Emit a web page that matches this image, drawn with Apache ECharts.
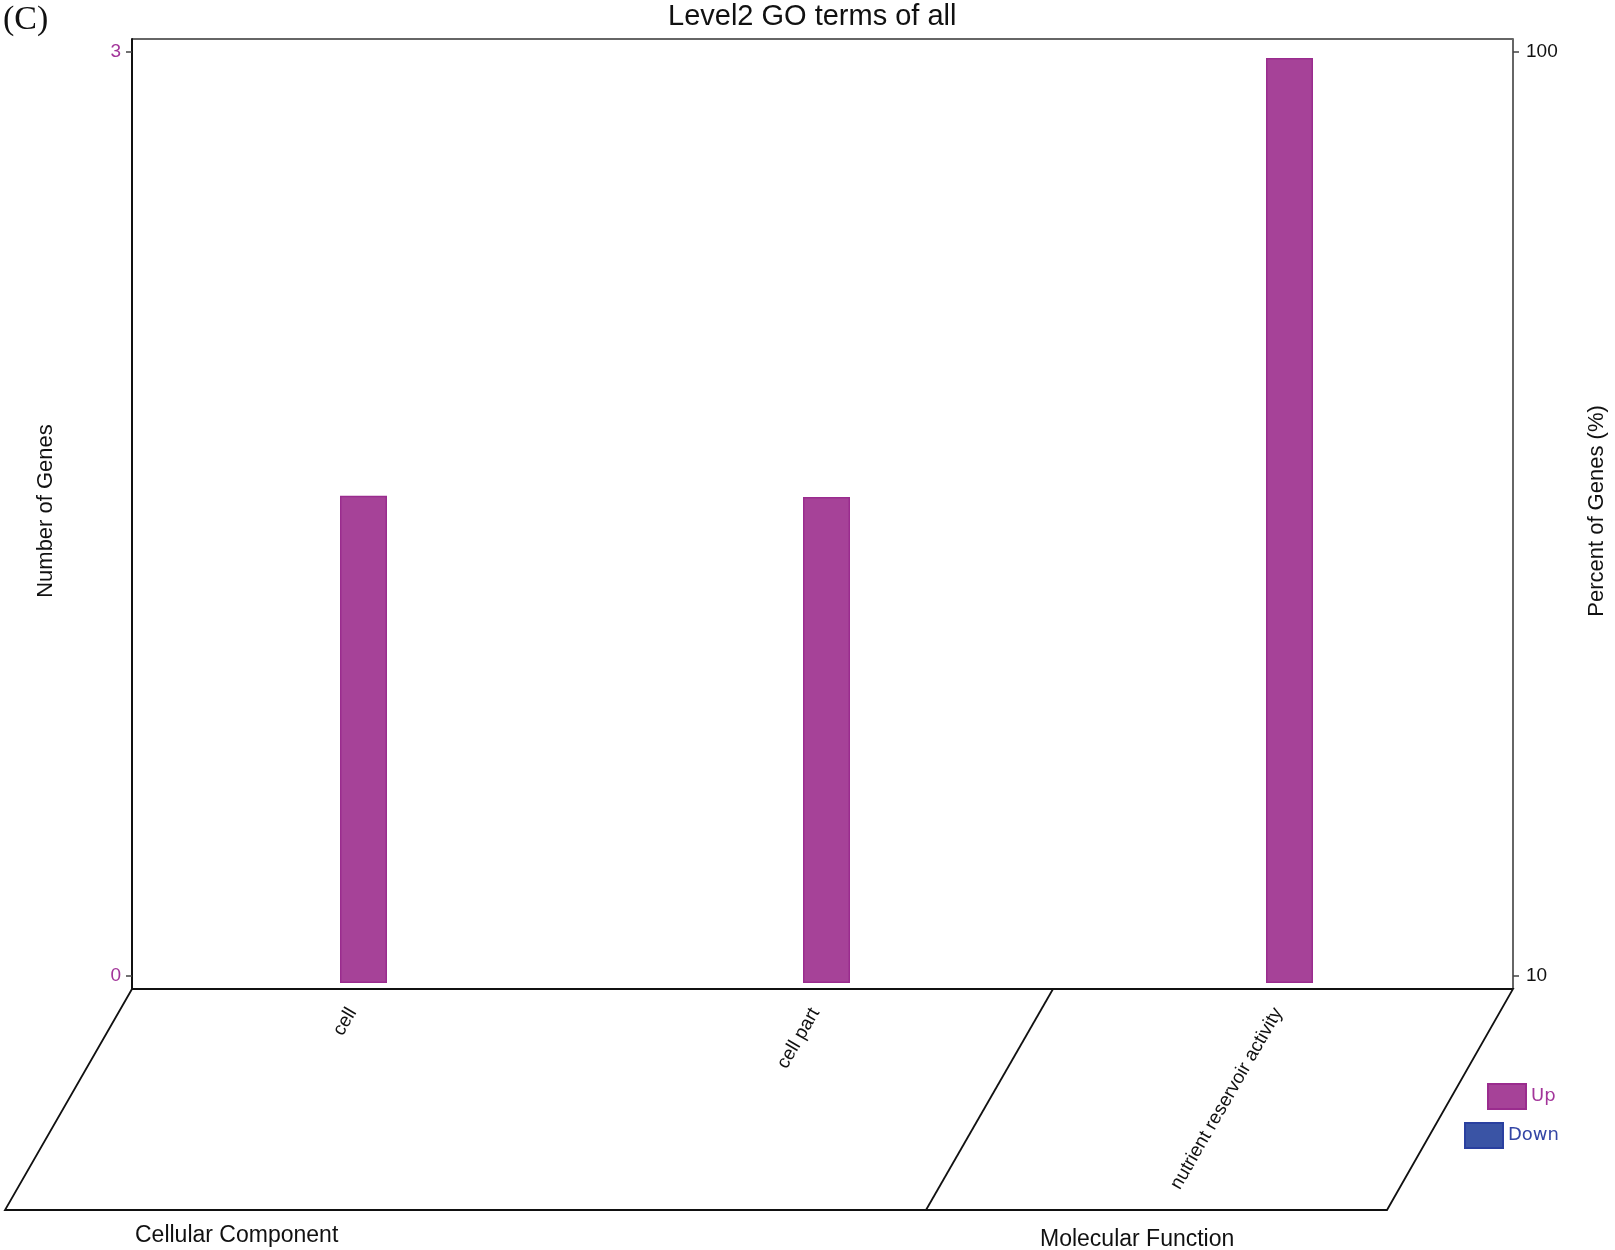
<!DOCTYPE html>
<html>
<head>
<meta charset="utf-8">
<title>Level2 GO terms of all</title>
<script src="https://cdn.jsdelivr.net/npm/echarts@6/dist/echarts.min.js"></script>
<style>
  html, body { margin: 0; padding: 0; background: #fff; }
  #main { width: 1615px; height: 1250px; }
</style>
</head>
<body>
<div id="main"></div>
<script>
// level 2 GO terms
var categories = ['cell', 'cell part', 'nutrient reservoir activity'];
// percent of genes (read against the log axis on the right)
var upPercent = [33.1, 33.0, 98.5];
var downPercent = [null, null, null];
// tick labels
var geneTicks = [0, 3];
var percentTicks = [10, 100];
var groupNames = ['Cellular Component', 'Molecular Function'];

var myChart = echarts.init(document.getElementById('main'));

var font = '"Liberation Sans", Arial, sans-serif';
var upColor = '#A64298';
var downColor = '#3A54A5';

myChart.setOption({
  animation: false,
  backgroundColor: '#fff',
  title: {
    text: 'Level2 GO terms of all',
    left: 668,
    top: 2,
    padding: 0,
    textStyle: { fontSize: 29, fontWeight: 'normal', color: '#111', fontFamily: font }
  },
  legend: [
    {
      data: [{ name: 'Up', textStyle: { color: '#A3359A' } }],
      left: 1487, top: 1083, padding: 0,
      icon: 'rect', itemWidth: 38, itemHeight: 25,
      textStyle: { fontSize: 18, fontFamily: '"DejaVu Sans", sans-serif' }
    },
    {
      data: [{ name: 'Down', textStyle: { color: '#3345A5' } }],
      left: 1464, top: 1122, padding: 0,
      icon: 'rect', itemWidth: 38, itemHeight: 25,
      textStyle: { fontSize: 18, fontFamily: '"DejaVu Sans", sans-serif' }
    }
  ],
  // the category bands run a little past the right frame, as in the original plot
  grid: {
    left: 132,
    right: 94,
    top: 39,
    bottom: 267,
    outerBoundsMode: 'none',
    containLabel: false
  },
  xAxis: {
    type: 'category',
    data: categories,
    position: 'bottom',
    offset: 6,
    boundaryGap: true,
    axisLine: { show: false, onZero: false },
    axisTick: { alignWithLabel: true, length: 6, lineStyle: { color: '#111', width: 1.5 } },
    axisLabel: {
      rotate: 60,
      margin: 20,
      padding: [0, 6, 0, 0],
      verticalAlign: 'bottom',
      fontSize: 19,
      color: '#111',
      fontFamily: font
    }
  },
  yAxis: [
    {
      type: 'value',
      name: 'Number of Genes',
      nameLocation: 'middle',
      nameGap: 75,
      nameTextStyle: { fontSize: 22, color: '#111', fontFamily: font },
      position: 'left',
      min: -0.0227,
      max: 3.0422,
      axisLine: { show: true, onZero: false, lineStyle: { color: '#111', width: 2 } },
      axisTick: { show: true, customValues: geneTicks, length: 6, lineStyle: { color: '#444', width: 1.5 } },
      axisLabel: { customValues: geneTicks, margin: 11, fontSize: 19, color: '#A3359A', fontFamily: font },
      splitLine: { show: false }
    },
    {
      type: 'log',
      logBase: 10,
      name: 'Percent of Genes (%)',
      nameLocation: 'middle',
      nameGap: 73,
      nameTextStyle: { fontSize: 22, color: '#111', fontFamily: font },
      position: 'right',
      offset: -8,
      min: 9.8271,
      max: 103.29,
      startValue: 9.8271,
      axisLine: { show: true, onZero: false, lineStyle: { color: '#666', width: 2 } },
      axisTick: { show: true, customValues: percentTicks, length: 6, lineStyle: { color: '#444', width: 1.5 } },
      axisLabel: { customValues: percentTicks, margin: 13, fontSize: 19, color: '#111', fontFamily: font },
      splitLine: { show: false }
    }
  ],
  series: [
    {
      name: 'Up',
      type: 'bar',
      yAxisIndex: 1,
      data: upPercent,
      barWidth: 47,
      barGap: '-100%',
      clip: true,
      itemStyle: { color: upColor, borderColor: '#9A2C8E', borderWidth: 1.5 }
    },
    {
      name: 'Down',
      type: 'bar',
      yAxisIndex: 1,
      data: downPercent,
      barWidth: 47,
      barGap: '-100%',
      clip: true,
      itemStyle: { color: downColor, borderColor: '#2A40A0', borderWidth: 1.5 }
    }
  ],
  graphic: [
    // top edge of the frame
    { type: 'line', shape: { x1: 132, y1: 39, x2: 1513, y2: 39 }, style: { stroke: '#666', lineWidth: 2 } },
    // frame corners down to the base line
    { type: 'line', shape: { x1: 132, y1: 982, x2: 132, y2: 989 }, style: { stroke: '#111', lineWidth: 2 } },
    { type: 'line', shape: { x1: 1513, y1: 982, x2: 1513, y2: 989 }, style: { stroke: '#666', lineWidth: 2 } },
    // base line and perspective floor
    {
      type: 'polygon',
      shape: { points: [[132, 989], [5, 1210], [1387, 1210], [1513, 989]] },
      style: { stroke: '#111', fill: null, lineWidth: 1.8 }
    },
    { type: 'line', shape: { x1: 1053, y1: 989, x2: 926, y2: 1210 }, style: { stroke: '#111', lineWidth: 1.8 } },
    { type: 'text', left: 135, top: 1224, style: { text: groupNames[0], font: '23px ' + font, fill: '#111' } },
    { type: 'text', left: 1040, top: 1228, style: { text: groupNames[1], font: '23px ' + font, fill: '#111' } },
    { type: 'text', left: 3, top: 3, style: { text: '(C)', font: '34px "Liberation Serif", "Times New Roman", serif', fill: '#111' } }
  ]
});

window.onresize = function () {
  myChart.resize();
};
</script>
</body>
</html>
